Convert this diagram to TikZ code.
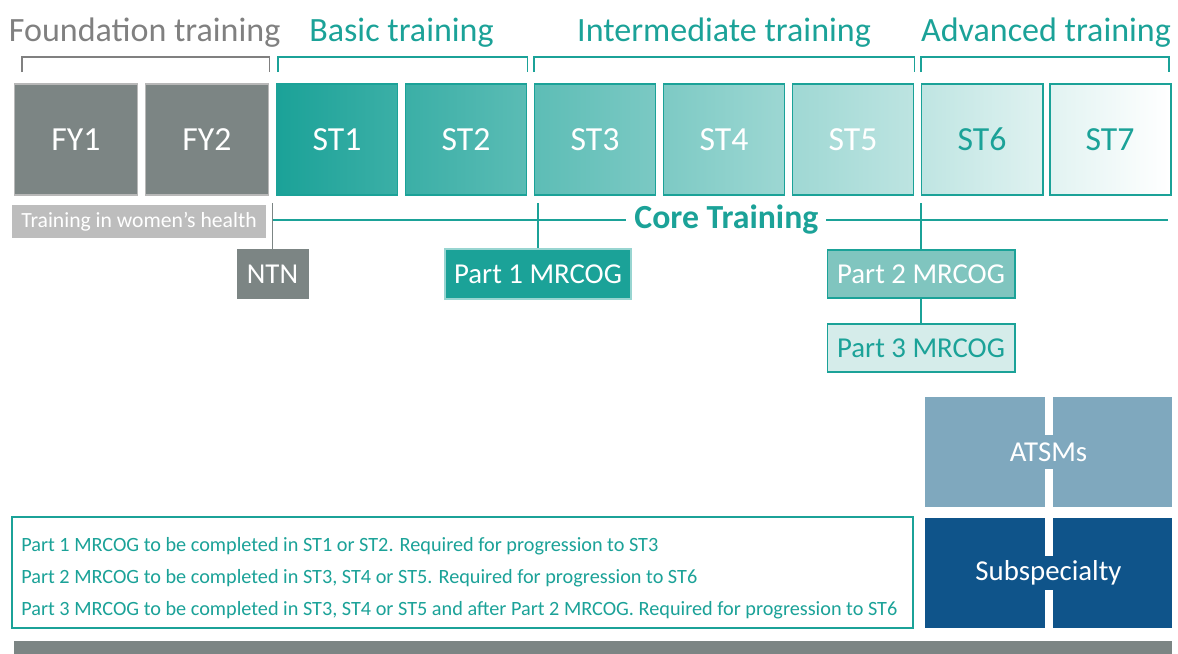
\documentclass[tikz,border=0pt]{standalone}
\usepackage{fontspec}
\setmainfont{Carlito}
\usetikzlibrary{positioning,calc}

\definecolor{rcteal}{HTML}{1BA298}
\definecolor{rcgray}{HTML}{7C8584}
\definecolor{rcgrayedge}{HTML}{B8B8B8}
\definecolor{rchead}{HTML}{808080}
\definecolor{rclight}{HTML}{BDBDBD}
\definecolor{rcpart2}{HTML}{80C5BF}
\definecolor{rcpart3}{HTML}{D5ECEA}
\definecolor{rcatsm}{HTML}{7FA8BE}
\definecolor{rcsub}{HTML}{0F548A}

\begin{document}
\begin{tikzpicture}[
    yr/.style={rectangle, draw=rcteal, line width=1.4pt, minimum width=3.025cm, minimum height=2.775cm, font=\fontsize{24}{28}\selectfont, text=white},
    fy/.style={yr, draw=rcgrayedge, fill=rcgray, minimum width=3.075cm},
    hdr/.style={font=\fontsize{24.2}{28}\selectfont, text=rcteal, anchor=base},
    brk/.style={draw=rcteal, line width=1.4pt},
    exam/.style={rectangle, minimum width=4.675cm, minimum height=1.2cm, font=\fontsize{20.5}{24}\selectfont, text=white, inner sep=0pt},
    big/.style={rectangle, minimum width=6.175cm, minimum height=2.75cm, inner sep=0pt},
    biglbl/.style={text=white, font=\fontsize{20.5}{24}\selectfont, inner xsep=0.12cm, minimum height=0.85cm},
    link/.style={draw=rcteal, line width=1.4pt}
]
    \useasboundingbox (0,0) rectangle (29.45,-16.325);

    % training years
    \node[fy] (fy1) at (1.9,-3.4875) {FY1};
    \node[fy] (fy2) at (5.175,-3.4875) {FY2};
    \node[yr, left color=rcteal, right color=rcteal!86!white] (st1) at (8.425,-3.4875) {ST1};
    \node[yr, left color=rcteal!86!white, right color=rcteal!72!white] (st2) at (11.65,-3.4875) {ST2};
    \node[yr, left color=rcteal!71!white, right color=rcteal!58!white] (st3) at (14.875,-3.4875) {ST3};
    \node[yr, left color=rcteal!57!white, right color=rcteal!43!white] (st4) at (18.1,-3.4875) {ST4};
    \node[yr, left color=rcteal!42!white, right color=rcteal!29!white] (st5) at (21.325,-3.4875) {ST5};
    \node[yr, left color=rcteal!28!white, right color=rcteal!14!white, text=rcteal] (st6) at (24.55,-3.4875) {ST6};
    \node[yr, left color=rcteal!13!white, right color=white, text=rcteal] (st7) at (27.75,-3.4875) {ST7};

    % stages
    \draw[brk, draw=rchead] ([xshift=0.2cm,yshift=0.275cm]fy1.north west) -- ++(0,0.375) -| ([yshift=0.275cm]fy2.north east);
    \draw[brk] ([xshift=0.06cm,yshift=0.275cm]st1.north west) -- ++(0,0.375) -| ([yshift=0.275cm]st2.north east);
    \draw[brk] ([yshift=0.275cm]st3.north west) -- ++(0,0.375) -| ([yshift=0.275cm]st5.north east);
    \draw[brk] ([yshift=0.275cm]st6.north west) -- ++(0,0.375) -| ([xshift=-0.06cm,yshift=0.275cm]st7.north east);

    \node[hdr, text=rchead] (hfound) at ($(fy1.north west)!0.5!(fy2.north east)+(0.08,1.05)$) {Foundation training};
    \node[hdr] (hbasic) at ($(st1.north west)!0.5!(st2.north east)+(0,1.05)$) {Basic training};
    \node[hdr] (hinter) at ($(st3.north west)!0.5!(st5.north east)+(0,1.05)$) {Intermediate training};
    \node[hdr] (hadv) at ($(st6.north west)!0.5!(st7.north east)+(0,1.05)$) {Advanced training};

    \node[rectangle, fill=rclight, text=white, minimum width=6.35cm, minimum height=0.825cm, font=\fontsize{15.4}{18}\selectfont] (women) at (3.475,-5.5375) {Training in women’s health};

    % core training line
    \coordinate (cleft) at (6.8125,-5.5);
    \coordinate (cright) at (29.2,-5.5);
    \draw[link] (cleft) -- (cright);
    \node[fill=white, text=rcteal, font=\bfseries\fontsize{24}{28}\selectfont, inner xsep=0.2cm, inner ysep=0pt] (core) at (18.16,-5.5) {Core Training};

    % exams
    \node[exam, fill=rcgray, minimum width=1.8cm, minimum height=1.25cm] (ntn) at (6.8125,-6.85) {NTN};
    \node[exam, fill=rcteal, draw=rcteal!45, line width=1pt, minimum width=4.65cm, minimum height=1.25cm] (part1) at (13.45,-6.85) {Part 1 MRCOG};
    \node[exam, fill=rcpart2, draw=rcteal, line width=1.4pt] (part2) at (23.025,-6.85) {Part 2 MRCOG};
    \node[exam, fill=rcpart3, draw=rcteal, line width=1.4pt, text=rcteal] (part3) at (23.025,-8.7) {Part 3 MRCOG};

    \coordinate (tntn) at (6.8125,-5.075);
    \coordinate (tp1) at (13.45,-5.075);
    \coordinate (tp2) at (23.025,-5.075);
    \draw[link, draw=rcgray] (tntn) -- (ntn);
    \draw[link] (tp1) -- (part1);
    \draw[link] (tp2) -- (part2);
    \draw[link] (part2) -- (part3);

    % ATSMs and subspecialty
    \node[big, fill=rcatsm] (atsm) at (26.2125,-11.3) {};
    \draw[white, line width=0.2cm] (atsm.north) -- (atsm.south);
    \node[biglbl, fill=rcatsm] (atsmlbl) at (atsm) {ATSMs};
    \node[big, fill=rcsub] (subsp) at (26.2125,-14.325) {};
    \draw[white, line width=0.2cm] (subsp.north) -- (subsp.south);
    \node[biglbl, fill=rcsub] (subsplbl) at (subsp) {Subspecialty};

    % notes
    \node[rectangle, draw=rcteal, line width=1.4pt, fill=white, minimum width=22.525cm, minimum height=2.775cm] (notes) at (11.5625,-14.3125) {};
    \node[anchor=west, align=left, text=rcteal, inner sep=0pt, font=\fontsize{14.4}{22.8}\selectfont] (notestxt) at ($(notes.west)+(0.25,-0.14)$) {Part 1 MRCOG to be completed in ST1 or ST2. Required for progression to ST3\\
      Part 2 MRCOG to be completed in ST3, ST4 or ST5. Required for progression to ST6\\
      Part 3 MRCOG to be completed in ST3, ST4 or ST5 and after Part 2 MRCOG. Required for progression to ST6};

    \fill[rcgray] (0.35,-16.025) rectangle (29.3,-16.6);
\end{tikzpicture}
\end{document}
